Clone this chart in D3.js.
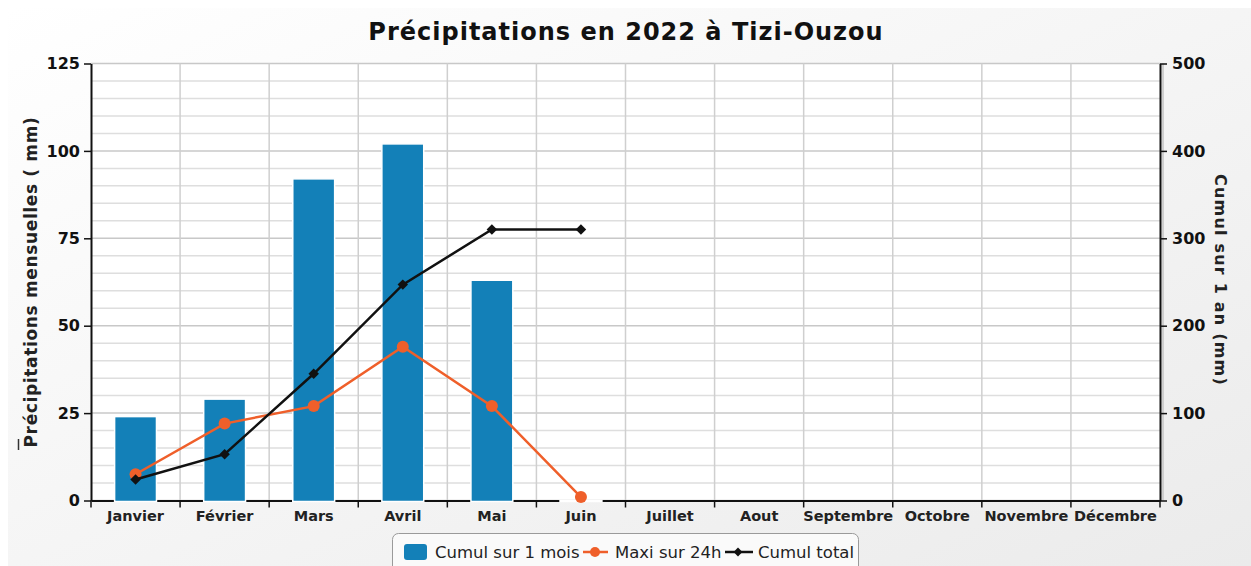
<!DOCTYPE html>
<html><head><meta charset="utf-8">
<script src="https://cdn.jsdelivr.net/npm/d3@7"></script>
<style>
html,body{margin:0;padding:0;}
body{width:1251px;height:566px;overflow:hidden;font-family:"DejaVu Sans",sans-serif;}
</style></head>
<body><svg id="c" width="1251" height="566"></svg>
<script>
const months = ["Janvier","Février","Mars","Avril","Mai","Juin","Juillet","Aout","Septembre","Octobre","Novembre","Décembre"];
const cumulMois = [24, 29, 92, 102, 63, 0];
const maxi24h = [7.5, 22, 27, 44, 27, 1];
const cumulTotal = [24, 53, 145, 247, 310, 310];
const leftTicks = [0, 25, 50, 75, 100, 125];
const rightTicks = [0, 100, 200, 300, 400, 500];
const title = "Précipitations en 2022 à Tizi-Ouzou";
const leftLabel = "Précipitations mensuelles ( mm)";
const rightLabel = "Cumul sur 1 an (mm)";
const legendItems = ["Cumul sur 1 mois", "Maxi sur 24h", "Cumul total"];

const W = 1251, H = 566;
const L = 91, R = 1160, T = 63.5, B = 500.5;
const svg = d3.select("#c");
const defs = svg.append("defs");
const g = defs.append("linearGradient").attr("id","bg").attr("x1","0").attr("y1","0").attr("x2","1").attr("y2","1");
g.append("stop").attr("offset","0%").attr("stop-color","#ffffff");
g.append("stop").attr("offset","100%").attr("stop-color","#ebebeb");
svg.append("rect").attr("width",W).attr("height",H).attr("fill","#ffffff");
svg.append("rect").attr("x",8).attr("y",8).attr("width",W-8).attr("height",H-8).attr("fill","url(#bg)");

const x = d3.scaleBand().domain(months).range([L,R]);
const yL = d3.scaleLinear().domain([0,125]).range([B,T]);
const yR = d3.scaleLinear().domain([0,500]).range([B,T]);

svg.append("rect").attr("x",L).attr("y",T).attr("width",R-L).attr("height",B-T).attr("fill","#ffffff");

const minor = d3.range(0,126,5);
svg.append("g").selectAll("line").data(minor).join("line")
  .attr("x1",L).attr("x2",R).attr("y1",d=>yL(d)).attr("y2",d=>yL(d))
  .attr("stroke",d=>d%25===0?"#c8c8c8":"#dedede").attr("stroke-width",1.5);
svg.append("g").selectAll("line").data(months.slice(1)).join("line")
  .attr("x1",d=>x(d)).attr("x2",d=>x(d)).attr("y1",T).attr("y2",B)
  .attr("stroke","#cfcfcf").attr("stroke-width",1.5);

const fontAx = "DejaVu Sans";
const xAxis = svg.append("g").attr("transform",`translate(0,${B})`)
  .call(d3.axisBottom(x).tickSize(0).tickPadding(10));
xAxis.select(".domain").attr("stroke","#111").attr("stroke-width",2);
xAxis.selectAll("text").attr("font-family",fontAx).attr("font-size",14.5).attr("font-weight","bold").attr("fill","#222");
svg.append("g").selectAll("line").data(months.concat(["_end"])).join("line")
  .attr("x1",(d,i)=>L+i*x.bandwidth()).attr("x2",(d,i)=>L+i*x.bandwidth())
  .attr("y1",B).attr("y2",B+7).attr("stroke","#111").attr("stroke-width",1.5);

const yAxisL = svg.append("g").attr("transform",`translate(${L},0)`)
  .call(d3.axisLeft(yL).tickValues(leftTicks).tickSize(7).tickPadding(4).tickSizeOuter(0));
yAxisL.select(".domain").attr("stroke","#111").attr("stroke-width",2);
yAxisL.selectAll(".tick line").attr("stroke","#111").attr("stroke-width",1.5);
yAxisL.selectAll("text").attr("font-family",fontAx).attr("font-size",16).attr("font-weight","bold").attr("fill","#111");

svg.append("line").attr("x1",R+3).attr("x2",R+3).attr("y1",T).attr("y2",B).attr("stroke","#cfcfcf").attr("stroke-width",2);
const yAxisR = svg.append("g").attr("transform",`translate(${R},0)`)
  .call(d3.axisRight(yR).tickValues(rightTicks).tickSize(7).tickPadding(5).tickSizeOuter(0));
yAxisR.select(".domain").attr("stroke","#111").attr("stroke-width",2);
yAxisR.selectAll(".tick line").attr("stroke","#111").attr("stroke-width",1.5);
yAxisR.selectAll("text").attr("font-family",fontAx).attr("font-size",16).attr("font-weight","bold").attr("fill","#111");

const barW = x.bandwidth()*0.47;
svg.append("g").selectAll("rect").data(cumulMois).join("rect")
  .attr("x",(d,i)=>x(months[i])+(x.bandwidth()-barW)/2)
  .attr("y",d=>yL(d)).attr("width",barW).attr("height",d=>B-yL(d)+1)
  .attr("fill","#1380b8").attr("stroke","#ffffff").attr("stroke-width",1.5);

const cx = i => x(months[i]) + x.bandwidth()/2;
const lineL = d3.line().x((d,i)=>cx(i)).y(d=>yL(d));
svg.append("path").datum(maxi24h).attr("d",lineL).attr("fill","none").attr("stroke","#ef5f2a").attr("stroke-width",2.5);
svg.append("g").selectAll("circle").data(maxi24h).join("circle")
  .attr("cx",(d,i)=>cx(i)).attr("cy",d=>yL(d)).attr("r",6).attr("fill","#ef5f2a");

const lineR = d3.line().x((d,i)=>cx(i)).y(d=>yR(d));
svg.append("path").datum(cumulTotal).attr("d",lineR).attr("fill","none").attr("stroke","#111").attr("stroke-width",2.5);
const diamond = d3.symbol().type(d3.symbolDiamond2).size(70);
svg.append("g").selectAll("path").data(cumulTotal).join("path")
  .attr("transform",(d,i)=>`translate(${cx(i)},${yR(d)})`).attr("d",diamond).attr("fill","#111");

svg.append("text").attr("x",626).attr("y",40).attr("text-anchor","middle")
  .attr("font-family",fontAx).attr("font-size",24).attr("font-weight","bold").attr("letter-spacing",1.0).attr("fill","#111").text(title);

svg.append("text").attr("transform","translate(37,282) rotate(-90)").attr("text-anchor","middle")
  .attr("font-family",fontAx).attr("font-size",17).attr("font-weight","bold").attr("letter-spacing",0.65).attr("fill","#222").text(leftLabel);
svg.append("line").attr("x1",18.5).attr("x2",18.5).attr("y1",439).attr("y2",450).attr("stroke","#333").attr("stroke-width",1.5);
svg.append("text").attr("transform","translate(1215,280) rotate(90)").attr("text-anchor","middle")
  .attr("font-family",fontAx).attr("font-size",16).attr("font-weight","bold").attr("letter-spacing",1.2).attr("fill","#222").text(rightLabel);

const lg = svg.append("g");
lg.append("rect").attr("x",392.5).attr("y",533.5).attr("width",466).attr("height",40).attr("rx",6)
  .attr("fill","#fafafa").attr("stroke","#9a9a9a").attr("stroke-width",1);
lg.append("rect").attr("x",404).attr("y",544).attr("width",23).attr("height",16).attr("rx",3).attr("fill","#1380b8");
lg.append("text").attr("x",435).attr("y",558).attr("font-family",fontAx).attr("font-size",16.5).attr("fill","#222").text(legendItems[0]);
lg.append("line").attr("x1",583).attr("x2",608).attr("y1",552).attr("y2",552).attr("stroke","#ef5f2a").attr("stroke-width",2.5);
lg.append("circle").attr("cx",595).attr("cy",552).attr("r",5).attr("fill","#ef5f2a");
lg.append("text").attr("x",615).attr("y",558).attr("font-family",fontAx).attr("font-size",16.5).attr("fill","#222").text(legendItems[1]);
lg.append("line").attr("x1",725).attr("x2",753).attr("y1",552).attr("y2",552).attr("stroke","#111").attr("stroke-width",2.5);
lg.append("path").attr("transform","translate(738,552)").attr("d",d3.symbol().type(d3.symbolDiamond2).size(50)).attr("fill","#111");
lg.append("text").attr("x",758).attr("y",558).attr("font-family",fontAx).attr("font-size",16.5).attr("fill","#222").text(legendItems[2]);
</script></body></html>
